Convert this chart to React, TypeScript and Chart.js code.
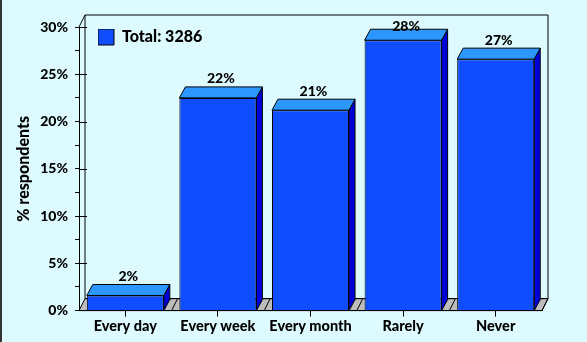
import React, { useEffect, useRef } from "react";
import { Chart, registerables } from "chart.js";

Chart.register(...registerables);

const categories = ["Every day", "Every week", "Every month", "Rarely", "Never"];
const values = [1.6, 22.5, 21.2, 28.6, 26.6];
const valueLabels = ["2%", "22%", "21%", "28%", "27%"];
const legendLabel = "Total: 3286";
const yTitle = "% respondents";
const FONT = "Lato, sans-serif";
const WEIGHT = "900";
const DX = 6;
const DY = 11;

const threeD = {
  id: "threeD",
  beforeDraw(chart: any) {
    const { ctx, chartArea: a } = chart;
    const bottom = a.bottom;
    ctx.save();
    ctx.fillStyle = "#333";
    ctx.fillRect(0, 0, 2, chart.height);
    ctx.lineWidth = 1;
    ctx.strokeStyle = "#000";
    // floor
    ctx.fillStyle = "#BDBDBD";
    ctx.beginPath();
    ctx.moveTo(a.left, bottom);
    ctx.lineTo(a.left + DX, bottom - 12);
    ctx.lineTo(a.right + DX, bottom - 12);
    ctx.lineTo(a.right, bottom);
    ctx.closePath();
    ctx.fill();
    ctx.stroke();
    // back wall
    ctx.beginPath();
    ctx.rect(a.left + DX, a.top - 12, a.width, a.height);
    ctx.stroke();
    // left wall edge
    ctx.beginPath();
    ctx.moveTo(a.left, a.top);
    ctx.lineTo(a.left + DX, a.top - 12);
    ctx.stroke();
    // diagonal floor lines between bars
    const meta = chart.getDatasetMeta(0);
    meta.data.forEach((b: any) => {
      const gx = b.x + a.width / categories.length / 2;
      ctx.beginPath();
      ctx.moveTo(gx, bottom);
      ctx.lineTo(gx + DX, bottom - 12);
      ctx.stroke();
    });
    ctx.restore();
  },
  beforeDatasetsDraw(chart: any) {
    const { ctx, chartArea: a } = chart;
    const bottom = a.bottom;
    ctx.save();
    ctx.lineWidth = 1;
    ctx.strokeStyle = "#000";
    const meta = chart.getDatasetMeta(0);
    // bar side and top
    meta.data.forEach((b: any) => {
      const l = b.x - b.width / 2;
      const r = b.x + b.width / 2;
      ctx.fillStyle = "#0000D8";
      ctx.beginPath();
      ctx.moveTo(r, b.y);
      ctx.lineTo(r + DX, b.y - DY);
      ctx.lineTo(r + DX, bottom - DY);
      ctx.lineTo(r, bottom);
      ctx.closePath();
      ctx.fill();
      ctx.stroke();
      ctx.fillStyle = "#2B97FF";
      ctx.beginPath();
      ctx.moveTo(l, b.y);
      ctx.lineTo(l + DX, b.y - DY);
      ctx.lineTo(r + DX, b.y - DY);
      ctx.lineTo(r, b.y);
      ctx.closePath();
      ctx.fill();
      ctx.stroke();
    });
    ctx.restore();
  },
  afterDatasetsDraw(chart: any) {
    const { ctx, chartArea: a } = chart;
    const meta = chart.getDatasetMeta(0);
    ctx.save();
    ctx.fillStyle = "#000";
    ctx.font = `${WEIGHT} 14px ${FONT}`;
    ctx.textAlign = "center";
    ctx.textBaseline = "middle";
    meta.data.forEach((b: any, i: number) => {
      ctx.fillText(valueLabels[i], b.x + DX / 2, Math.max(26, b.y - DY - 8));
    });
    // major ticks crossing into wall
    ctx.strokeStyle = "#000";
    const y = chart.scales.y;
    for (let v = 5; v <= 30; v += 5) {
      const p = Math.round(y.getPixelForValue(v)) + 0.5;
      ctx.beginPath();
      ctx.moveTo(a.left, p);
      ctx.lineTo(a.left + 8, p);
      ctx.stroke();
    }
    ctx.restore();
  },
  afterLayout(chart: any) {
    const lg = chart.legend;
    if (lg) {
      lg.left = 98;
      lg.top = 29;
    }
  },
};

export default function App() {
  const ref = useRef<HTMLCanvasElement>(null);
  useEffect(() => {
    document.body.style.margin = "0";
    document.body.style.background = "#DDFBFF";
    const chart = new Chart(ref.current!, {
      type: "bar",
      data: {
        labels: categories,
        datasets: [
          {
            label: legendLabel,
            data: values,
            backgroundColor: "#0F4DFF",
            borderColor: "#000",
            borderWidth: 1,
            barPercentage: 1,
            categoryPercentage: 0.832,
          },
        ],
      },
      plugins: [threeD],
      options: {
        animation: false,
        responsive: false,
        layout: { padding: { left: 0, top: 27, right: 45, bottom: 6 } },
        scales: {
          x: {
            grid: { drawOnChartArea: false, offset: false, tickLength: 6, tickColor: "#000" },
            border: { color: "#000" },
            ticks: { color: "#000", font: { family: FONT, weight: WEIGHT, size: 14.5 }, maxRotation: 0, padding: 1 },
          },
          y: {
            min: 0,
            max: 30,
            afterFit(s: any) {
              s.width = 79;
            },
            grid: { drawOnChartArea: false, tickLength: 4, tickColor: "#000" },
            border: { color: "#000" },
            title: {
              display: true,
              text: yTitle,
              color: "#000",
              font: { family: FONT, weight: WEIGHT, size: 16 },
              padding: { top: 14, bottom: 8 },
            },
            ticks: {
              stepSize: 2.5,
              autoSkip: false,
              color: "#000",
              font: { family: FONT, weight: WEIGHT, size: 14 },
              padding: 7,
              callback: (v: any) => (Number(v) % 5 === 0 ? `${v}%` : ""),
            },
          },
        },
        plugins: {
          tooltip: { enabled: false },
          legend: {
            position: "chartArea",
            align: "start",
            labels: {
              boxWidth: 16,
              boxHeight: 16,
              padding: 0,
              color: "#000",
              font: { family: FONT, weight: WEIGHT, size: 16 },
            },
          },
        },
      },
    } as any);
    return () => chart.destroy();
  }, []);
  return <canvas ref={ref} width={587} height={342} style={{ display: "block", width: 587, height: 342 }} />;
}
